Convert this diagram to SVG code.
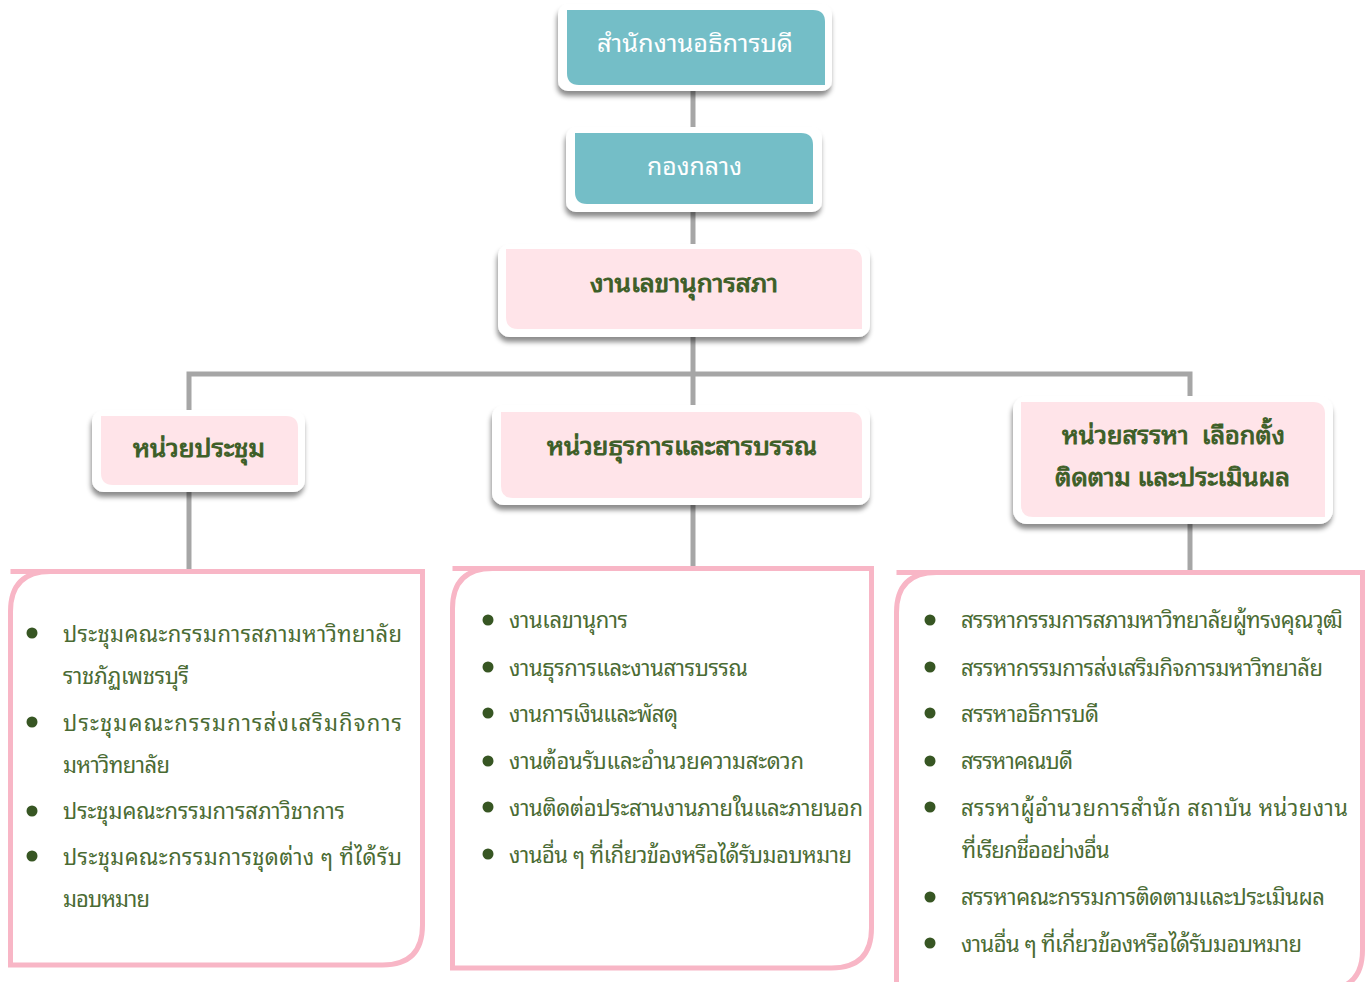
<svg xmlns="http://www.w3.org/2000/svg" width="1370" height="982" viewBox="0 0 1370 982">
<defs>
<filter id="sh" x="-10%" y="-20%" width="120%" height="150%">
<feDropShadow dx="-1" dy="5" stdDeviation="2.5" flood-color="#000" flood-opacity="0.45"/>
</filter>
<style>
.frame{fill:#fff;filter:url(#sh)}
.teal{fill:#74BEC7}
.pink{fill:#FFE4E9}
.box{fill:#fff;stroke:#F8B6C6;stroke-width:5}
.conn{stroke:#A6A6A6;stroke-width:5;fill:none}
.th{font-family:"Noto Sans Thai Looped","Leelawadee UI",Tahoma,Loma,Garuda,"Noto Sans Thai","Noto Sans","DejaVu Sans",sans-serif}
.wt{fill:#fff;font-size:24px}
.hd{fill:#3D5E27;font-size:24px;font-weight:normal;stroke:#3D5E27;stroke-width:0.9px}
.it{fill:#4A6B33;font-size:22px}
.bl{fill:#375623}
</style>
</defs>
<rect width="1370" height="982" fill="#fff"/>
<g id="connectors">
<line class="conn" x1="693" y1="90" x2="693" y2="134"/>
<line class="conn" x1="693" y1="208" x2="693" y2="250"/>
<line class="conn" x1="693" y1="334" x2="693" y2="406"/>
<polyline class="conn" points="189,416 189,374 1190,374 1190,402"/>
<line class="conn" x1="189" y1="490" x2="189" y2="570"/>
<line class="conn" x1="693" y1="503" x2="693" y2="568"/>
<line class="conn" x1="1190" y1="522" x2="1190" y2="572"/>
</g>
<g id="n-office">
<rect class="frame" x="558" y="4" width="274" height="87" rx="10"/>
<path class="teal" d="M567,10 H813 Q825,10 825,22 V85 H579 Q567,85 567,73 Z"/>
<text class="th wt" x="597" y="52" textLength="196" lengthAdjust="spacingAndGlyphs">สำนักงานอธิการบดี</text>
</g>
<g id="n-division">
<rect class="frame" x="566" y="127" width="256" height="85" rx="10"/>
<path class="teal" d="M575,133 H801 Q813,133 813,145 V204 H587 Q575,204 575,192 Z"/>
<text class="th wt" x="647" y="175" textLength="95" lengthAdjust="spacingAndGlyphs">กองกลาง</text>
</g>
<g id="n-secretariat">
<rect class="frame" x="498" y="244" width="372" height="93" rx="12"/>
<path class="pink" d="M506,249 H850 Q862,249 862,261 V329 H518 Q506,329 506,317 Z"/>
<text class="th hd" x="590" y="292" textLength="188" lengthAdjust="spacingAndGlyphs">งานเลขานุการสภา</text>
</g>
<g id="n-meeting">
<rect class="frame" x="92" y="410" width="213" height="82" rx="12"/>
<path class="pink" d="M101,416 H286 Q298,416 298,428 V485 H113 Q101,485 101,473 Z"/>
<text class="th hd" x="133" y="457" textLength="132" lengthAdjust="spacingAndGlyphs">หน่วยประชุม</text>
</g>
<g id="n-admin">
<rect class="frame" x="492" y="405" width="378" height="100" rx="12"/>
<path class="pink" d="M501,412 H850 Q862,412 862,424 V498 H513 Q501,498 501,486 Z"/>
<text class="th hd" x="547" y="455" textLength="270" lengthAdjust="spacingAndGlyphs">หน่วยธุรการและสารบรรณ</text>
</g>
<g id="n-recruit">
<rect class="frame" x="1013" y="396" width="320" height="128" rx="14"/>
<path class="pink" d="M1021,402 H1313 Q1325,402 1325,414 V517 H1033 Q1021,517 1021,505 Z"/>
<text class="th hd" x="1062" y="444" textLength="223" lengthAdjust="spacingAndGlyphs" xml:space="preserve">หน่วยสรรหา  เลือกตั้ง</text>
<text class="th hd" x="1055" y="486" textLength="235" lengthAdjust="spacingAndGlyphs">ติดตาม และประเมินผล</text>
</g>
<g id="list-meeting">
<path class="box" d="M10.5,571.5 H422.5 V925 Q422.5,965 382.5,965 H10.5 V611.5 Q10.5,571.5 50.5,571.5 Z"/>
<g class="bl">
<circle cx="32" cy="633" r="5.5"/><circle cx="32" cy="722" r="5.5"/><circle cx="32" cy="811" r="5.5"/><circle cx="32" cy="856" r="5.5"/>
</g>
<g class="th it">
<text x="63" y="642" textLength="339" lengthAdjust="spacing">ประชุมคณะกรรมการสภามหาวิทยาลัย</text>
<text x="63" y="684" textLength="126" lengthAdjust="spacing">ราชภัฏเพชรบุรี</text>
<text x="63" y="731" textLength="339" lengthAdjust="spacing">ประชุมคณะกรรมการส่งเสริมกิจการ</text>
<text x="63" y="773" textLength="107" lengthAdjust="spacing">มหาวิทยาลัย</text>
<text x="63" y="819" textLength="282" lengthAdjust="spacing">ประชุมคณะกรรมการสภาวิชาการ</text>
<text x="63" y="865" textLength="339" lengthAdjust="spacing">ประชุมคณะกรรมการชุดต่าง ๆ ที่ได้รับ</text>
<text x="63" y="907" textLength="87" lengthAdjust="spacing">มอบหมาย</text>
</g>
</g>
<g id="list-admin">
<path class="box" d="M452.5,568.5 H871.5 V928 Q871.5,968 831.5,968 H452.5 V608.5 Q452.5,568.5 492.5,568.5 Z"/>
<g class="bl">
<circle cx="488" cy="620" r="5.5"/><circle cx="488" cy="667" r="5.5"/><circle cx="488" cy="713" r="5.5"/><circle cx="488" cy="761" r="5.5"/><circle cx="488" cy="807" r="5.5"/><circle cx="488" cy="854" r="5.5"/>
</g>
<g class="th it">
<text x="509" y="628" textLength="119" lengthAdjust="spacing">งานเลขานุการ</text>
<text x="509" y="676" textLength="239" lengthAdjust="spacing">งานธุรการและงานสารบรรณ</text>
<text x="509" y="722" textLength="169" lengthAdjust="spacing">งานการเงินและพัสดุ</text>
<text x="509" y="769" textLength="295" lengthAdjust="spacing">งานต้อนรับและอำนวยความสะดวก</text>
<text x="509" y="816" textLength="354" lengthAdjust="spacing">งานติดต่อประสานงานภายในและภายนอก</text>
<text x="509" y="863" textLength="343" lengthAdjust="spacing">งานอื่น ๆ ที่เกี่ยวข้องหรือได้รับมอบหมาย</text>
</g>
</g>
<g id="list-recruit">
<path class="box" d="M896.5,572.5 H1362.5 V950 Q1362.5,990 1322.5,990 H896.5 V612.5 Q896.5,572.5 936.5,572.5 Z"/>
<g class="bl">
<circle cx="930" cy="620" r="5.5"/><circle cx="930" cy="667" r="5.5"/><circle cx="930" cy="713" r="5.5"/><circle cx="930" cy="761" r="5.5"/><circle cx="930" cy="807" r="5.5"/><circle cx="930" cy="897" r="5.5"/><circle cx="930" cy="943" r="5.5"/>
</g>
<g class="th it">
<text x="961" y="628" textLength="382" lengthAdjust="spacing">สรรหากรรมการสภามหาวิทยาลัยผู้ทรงคุณวุฒิ</text>
<text x="961" y="676" textLength="362" lengthAdjust="spacing">สรรหากรรมการส่งเสริมกิจการมหาวิทยาลัย</text>
<text x="961" y="722" textLength="138" lengthAdjust="spacing">สรรหาอธิการบดี</text>
<text x="961" y="769" textLength="112" lengthAdjust="spacing">สรรหาคณบดี</text>
<text x="961" y="816" textLength="387" lengthAdjust="spacing">สรรหาผู้อำนวยการสำนัก สถาบัน หน่วยงาน</text>
<text x="961" y="858" textLength="148" lengthAdjust="spacing">ที่เรียกชื่ออย่างอื่น</text>
<text x="961" y="905" textLength="364" lengthAdjust="spacing">สรรหาคณะกรรมการติดตามและประเมินผล</text>
<text x="961" y="952" textLength="341" lengthAdjust="spacing">งานอื่น ๆ ที่เกี่ยวข้องหรือได้รับมอบหมาย</text>
</g>
</g>
</svg>
